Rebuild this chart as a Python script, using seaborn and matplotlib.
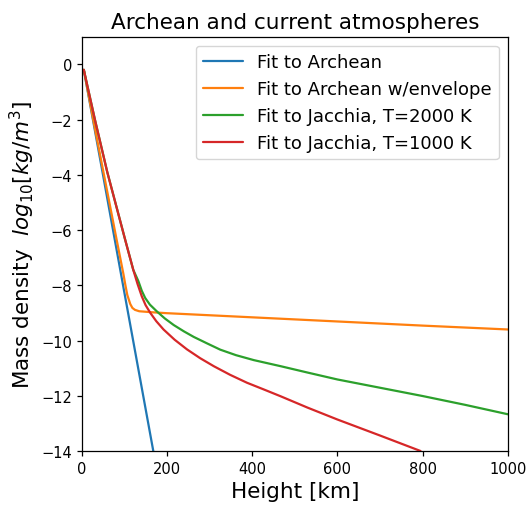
import numpy as np
import pandas as pd
import seaborn as sns
import matplotlib.pyplot as plt

# values (height in km, log10 density in kg/m^3)
archean_h = [5, 50, 100, 168]
archean_rho = [-0.2, -4.0, -8.25, -14.0]

envelope_h = [5, 27, 82, 98, 102, 107, 114, 119, 125, 135, 168, 200, 400, 600, 800, 1000]
envelope_rho = [-0.2, -2.0, -6.35, -7.6, -7.95, -8.35, -8.68, -8.82, -8.89, -8.94, -8.98, -9.01, -9.16, -9.31, -9.46, -9.6]

j2000_h = [5, 31, 60, 102, 121, 133, 141, 149, 160, 176, 195, 216, 240, 263, 295, 325, 362, 404, 467, 530, 600, 700, 800, 900, 1000]
j2000_rho = [-0.2, -2.0, -3.9, -6.35, -7.44, -7.85, -8.2, -8.46, -8.7, -8.94, -9.2, -9.44, -9.67, -9.87, -10.11, -10.33, -10.53, -10.71, -10.93, -11.16, -11.41, -11.71, -12.01, -12.33, -12.67]

j1000_h = [5, 31, 60, 102, 121, 131, 141, 150, 161, 175, 192, 218, 247, 278, 310, 348, 388, 427, 467, 530, 600, 700, 795]
j1000_rho = [-0.2, -2.0, -3.9, -6.35, -7.44, -7.95, -8.4, -8.72, -9.0, -9.3, -9.6, -9.97, -10.32, -10.64, -10.93, -11.24, -11.53, -11.77, -12.02, -12.43, -12.86, -13.44, -14.0]

labels = ["Fit to Archean", "Fit to Archean w/envelope",
          "Fit to Jacchia, T=2000 K", "Fit to Jacchia, T=1000 K"]
colors = ["#1f77b4", "#ff7f0e", "#2ca02c", "#d62728"]

sns.set_style("ticks", {"axes.edgecolor": "black", "text.color": "black",
                        "axes.labelcolor": "black", "xtick.color": "black",
                        "ytick.color": "black"})
plt.rcParams["axes.linewidth"] = 0.9

fig = plt.figure(figsize=(5.28, 5.06), dpi=100)
ax = fig.add_axes([0.1547, 0.1067, 0.962 - 0.1547, 0.9255 - 0.1067])

series = [(archean_h, archean_rho), (envelope_h, envelope_rho),
          (j2000_h, j2000_rho), (j1000_h, j1000_rho)]
for (h, rho), lab, col in zip(series, labels, colors):
    sns.lineplot(x=h, y=rho, ax=ax, color=col, label=lab, linewidth=1.6, sort=False)

ax.set_xlim(0, 1000)
ax.set_ylim(-14, 1)
ax.set_xticks([0, 200, 400, 600, 800, 1000])
ax.set_yticks([0, -2, -4, -6, -8, -10, -12, -14])
ax.tick_params(labelsize=10.5, width=0.9)
ax.set_title("Archean and current atmospheres", fontsize=15.5)
ax.set_xlabel("Height [km]", fontsize=15.5)
ax.set_ylabel("Mass density  $log_{10}[kg/m^3]$", fontsize=15.5, labelpad=3)
ax.legend(loc="upper right", fontsize=13, handlelength=2.2)

fig.savefig("out.png", dpi=100)
